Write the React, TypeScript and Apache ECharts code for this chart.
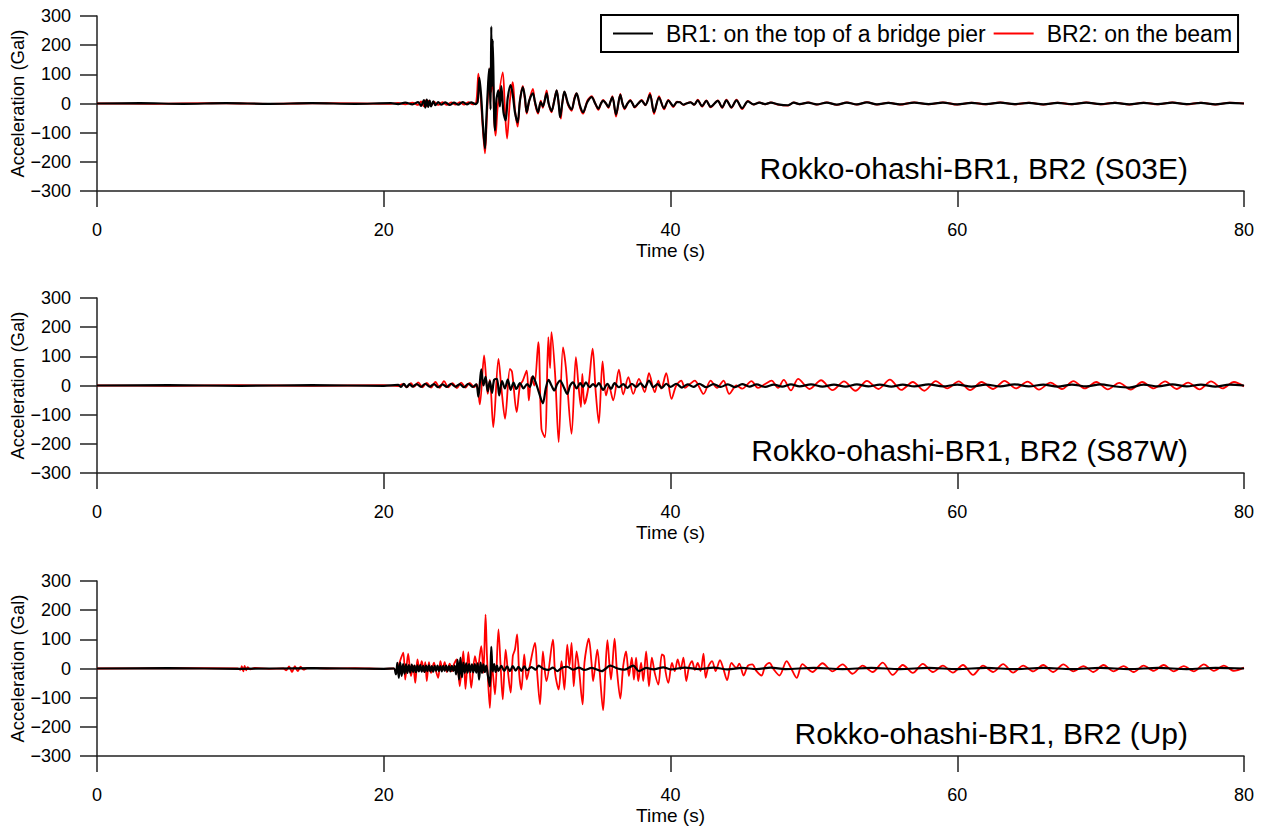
import { useEffect, useRef } from 'react';
import * as echarts from 'echarts';

// ---------- data: [time (s), acceleration (Gal)] ----------
const BR1_NAME = 'BR1: on the top of a bridge pier';
const BR2_NAME = 'BR2: on the beam';
const TITLES = ['Rokko-ohashi-BR1, BR2 (S03E)', 'Rokko-ohashi-BR1, BR2 (S87W)', 'Rokko-ohashi-BR1, BR2 (Up)'];
const Y_TICKS = [-300, -200, -100, 0, 100, 200, 300];
const X_TICKS = [0, 20, 40, 60, 80];

const s03eBR1 = [[0,0],[3,1],[6,-1],[9,1],[12,-1],[15,1],[18,-1],[20.5,1],[21.0,-2],[21.5,3],[22.0,-3],[22.4,5],[22.6,-8],[22.8,12],[22.9,-14],[23.0,13],[23.1,-12],[23.2,10],[23.3,-10],[23.45,7],[23.6,-6],[23.8,5],[24.0,-4],[24.3,4],[24.6,-5],[24.9,3],[25.2,-4],[25.5,5],[25.8,-3],[26.1,4],[26.4,-2],[26.55,6],[26.67,88],[26.8,20],[26.9,-60],[27.06,-154],[27.15,-60],[27.25,40],[27.35,120],[27.45,-20],[27.5,264],[27.55,60],[27.6,218],[27.7,-40],[27.76,-92],[27.85,10],[28.0,45],[28.1,-10],[28.2,60],[28.35,-30],[28.5,-58],[28.65,20],[28.85,63],[29.0,30],[29.15,-30],[29.34,-65],[29.5,10],[29.7,56],[29.85,20],[29.97,-30],[30.15,10],[30.4,35],[30.55,5],[30.76,-30],[30.95,5],[31.1,-10],[31.36,35],[31.5,0],[31.7,-26],[31.9,10],[32.06,45],[32.2,0],[32.3,-47],[32.45,0],[32.6,41],[32.85,0],[33.1,-20],[33.3,15],[33.45,35],[33.7,-10],[33.9,-30],[34.2,5],[34.5,22],[34.75,0],[34.97,-18],[35.15,0],[35.3,10],[35.5,0],[35.67,-12],[35.8,5],[35.95,22],[36.2,-38],[36.5,30],[36.65,0],[36.8,-16],[37.0,0],[37.2,10],[37.35,0],[37.5,-12],[37.75,0],[37.98,10],[38.25,-5],[38.57,30],[38.85,-30],[39.2,20],[39.55,-16],[39.85,10],[40.2,-9],[40.45,5],[40.66,4],[40.9,-4],[41.1,0],[41.4,4],[41.65,-4],[41.9,11],[42.2,-9],[42.5,9],[42.8,-11],[43.3,9],[43.6,-13],[43.9,11],[44.25,-13],[44.6,11],[45.0,-16],[45.4,7],[45.8,-3],[46.2,3],[46.6,-2],[47.0,3],[47.5,-3],[48.2,-6],[48.6,3],[49.0,-2],[49.6,3],[50.2,-3],[50.9,3],[51.6,-4],[52.3,3],[53.0,-3],[53.7,4],[54.4,-3],[55.2,2],[56,-3],[57,3],[58,-2],[59,3],[60,-3],[61,2],[62,-2],[63,3],[64,-2],[65,2],[66,-3],[67,2],[68,-2],[69,3],[70,-2],[71,2],[72,-3],[73,2],[74,-2],[75,3],[76,-2],[77,2],[78,-3],[79,2],[80,0]];

const s03eBR2 = [[0,0],[4,-1],[8,1],[12,-1],[16,1],[20.5,-1],[21.0,2],[21.5,-3],[22.0,3],[22.4,-5],[22.6,7],[22.8,-10],[22.9,11],[23.0,-10],[23.1,10],[23.3,-8],[23.5,6],[23.8,-5],[24.1,5],[24.4,-5],[24.7,4],[25.0,-4],[25.3,5],[25.6,-4],[25.9,5],[26.2,-3],[26.45,5],[26.6,102],[26.75,30],[26.9,-80],[27.06,-171],[27.2,-40],[27.4,120],[27.5,40],[27.6,100],[27.7,-50],[27.8,-110],[27.95,-10],[28.3,107],[28.45,-20],[28.6,-120],[28.8,10],[29.0,73],[29.15,-20],[29.34,-79],[29.5,10],[29.7,60],[29.85,10],[29.97,-35],[30.15,10],[30.4,50],[30.55,0],[30.76,-35],[30.95,10],[31.1,-15],[31.36,45],[31.5,0],[31.7,-30],[31.9,15],[32.06,45],[32.2,0],[32.35,-52],[32.45,0],[32.6,41],[32.85,-5],[33.1,-25],[33.3,20],[33.45,35],[33.7,-15],[33.9,-35],[34.2,10],[34.5,25],[34.75,0],[34.97,-22],[35.15,0],[35.3,12],[35.5,0],[35.67,-15],[35.8,5],[35.95,25],[36.2,-45],[36.5,33],[36.65,0],[36.8,-20],[37.0,0],[37.2,12],[37.35,0],[37.5,-14],[37.75,0],[37.98,12],[38.25,-6],[38.57,36],[38.85,-36],[39.2,25],[39.55,-20],[39.85,12],[40.2,-12],[40.45,6],[40.66,5],[40.9,-5],[41.1,0],[41.4,5],[41.65,-5],[41.9,13],[42.2,-11],[42.5,11],[42.8,-13],[43.3,11],[43.6,-15],[43.9,13],[44.25,-15],[44.6,13],[45.0,-19],[45.4,9],[45.8,-4],[46.2,4],[46.6,-3],[47.0,4],[47.5,-4],[48.2,-7],[48.6,4],[49.0,-3],[49.6,4],[50.2,-4],[50.9,4],[51.6,-5],[52.3,4],[53.0,-4],[53.7,5],[54.4,-4],[55.2,3],[56,-4],[57,4],[58,-3],[59,4],[60,-4],[61,3],[62,-3],[63,4],[64,-3],[65,3],[66,-4],[67,3],[68,-3],[69,4],[70,-3],[71,3],[72,-4],[73,3],[74,-3],[75,4],[76,-3],[77,3],[78,-4],[79,3],[80,0]];

const s87wBR1 = [[0,0],[5,1],[10,-1],[15,1],[20,-1],[21.0,2],[21.2,-5],[21.4,6],[21.6,-6],[21.8,5],[22.0,-4],[22.3,5],[22.6,-5],[22.9,6],[23.2,-4],[23.5,5],[23.8,-6],[24.1,4],[24.4,-5],[24.7,6],[25.0,-4],[25.3,5],[25.6,-6],[25.9,6],[26.2,-5],[26.45,4],[26.6,-38],[26.8,55],[26.95,0],[27.1,30],[27.25,-20],[27.4,15],[27.55,-25],[27.7,20],[27.9,23],[28.05,-34],[28.25,15],[28.45,-10],[28.65,20],[28.85,-15],[29.05,10],[29.25,-12],[29.5,8],[29.75,-10],[30.0,5],[30.2,-5],[30.4,31],[30.6,10],[30.8,-20],[31.1,-61],[31.3,-10],[31.5,19],[31.7,0],[31.9,-17],[32.1,5],[32.3,17],[32.55,-5],[32.8,-29],[33.0,0],[33.2,11],[33.45,-10],[33.7,8],[33.9,-5],[34.1,11],[34.35,-6],[34.6,5],[34.8,-4],[35.0,8],[35.3,-15],[35.6,6],[35.85,-12],[36.1,8],[36.4,-6],[36.7,5],[37.0,-8],[37.3,6],[37.6,-5],[37.9,7],[38.2,-6],[38.5,17],[38.8,-6],[39.1,5],[39.4,-8],[39.7,6],[40.0,-5],[40.4,6],[40.8,-7],[41.2,4],[41.6,-5],[42.0,6],[42.5,-6],[43.0,5],[43.5,-5],[44.0,4],[44.5,-6],[45.0,5],[45.5,-4],[46.0,4],[46.6,-5],[47.2,3],[47.8,-4],[48.4,4],[49.0,-3],[49.8,4],[50.6,-4],[51.4,3],[52.2,-4],[53.0,4],[53.8,-3],[54.6,3],[55.4,-4],[56.2,3],[57.0,-3],[58,4],[59,-3],[60,3],[61,-4],[62,3],[63,-3],[64,4],[65,-3],[66,3],[67,-4],[68,3],[69,-3],[70,4],[71,-3],[72,-7],[73,3],[74,-3],[75,4],[76,-3],[77,3],[78,-4],[79,3],[80,0]];

const s87wBR2 = [[0,0],[5,-1],[10,1],[15,-1],[20,1],[21.0,-2],[21.3,5],[21.6,-6],[21.9,8],[22.1,-5],[22.4,11],[22.7,-6],[23.0,9],[23.3,-7],[23.6,12],[23.9,-8],[24.2,15],[24.5,-6],[24.8,8],[25.1,-9],[25.4,10],[25.7,-7],[26.0,9],[26.3,-6],[26.5,5],[26.7,-65],[27.0,103],[27.15,17],[27.25,-29],[27.4,20],[27.64,-143],[28.0,91],[28.2,-6],[28.46,-114],[28.8,57],[28.95,46],[29.27,-91],[29.5,0],[29.7,17],[29.97,51],[30.12,-51],[30.3,29],[30.5,0],[30.78,149],[31.0,-149],[31.24,-177],[31.48,166],[31.6,60],[31.7,183],[31.95,40],[32.2,-194],[32.5,131],[32.7,63],[33.1,-166],[33.4,97],[33.6,-10],[33.75,-74],[33.85,40],[34.0,-63],[34.27,-6],[34.57,126],[34.78,-20],[35.0,-129],[35.26,83],[35.5,-34],[35.7,0],[36.0,-51],[36.4,54],[36.7,-31],[37.06,29],[37.4,-29],[37.8,23],[38.2,-23],[38.5,42],[38.9,-23],[39.15,17],[39.35,-11],[39.7,42],[40.07,-46],[40.4,0],[40.75,17],[41.0,-8],[41.35,5],[41.7,17],[42.0,-5],[42.3,-29],[42.8,17],[43.25,-8],[43.7,17],[44.1,-29],[44.6,0],[45.0,-11],[45.65,15],[46.1,-8],[46.6,5],[47.05,17],[47.5,-8],[47.9,19],[48.4,-17],[48.9,23],[49.7,-12],[50.5,18],[51.3,-16],[52.1,14],[52.9,-18],[53.7,16],[54.5,-12],[55.3,20],[56.1,-15],[56.9,12],[57.7,-18],[58.5,15],[59.3,-10],[60.1,14],[60.9,-16],[61.7,12],[62.5,-12],[63.3,16],[64.1,-10],[64.9,13],[65.7,-14],[66.5,10],[67.3,-12],[68.1,15],[68.9,-10],[69.7,12],[70.5,-13],[71.3,9],[72.1,-14],[72.9,12],[73.7,-10],[74.5,14],[75.3,-12],[76.1,10],[76.9,-13],[77.7,14],[78.5,-10],[79.3,12],[80,-3]];

const upBR1 = [[0,0],[5,1],[10,-1],[15,1],[20,-1],[20.7,0],[20.85,-20],[20.95,19],[21.05,-32],[21.15,20],[21.25,-25],[21.35,15],[21.45,-18],[21.55,14],[21.65,-15],[21.75,12],[21.85,-14],[21.95,13],[22.05,-12],[22.15,10],[22.25,-13],[22.35,11],[22.45,-10],[22.55,12],[22.65,-11],[22.75,9],[22.85,-12],[22.95,10],[23.05,-9],[23.15,11],[23.25,-10],[23.35,8],[23.45,-11],[23.55,9],[23.65,-8],[23.75,10],[23.85,-9],[23.95,8],[24.05,-10],[24.15,9],[24.25,-8],[24.35,10],[24.45,-9],[24.55,8],[24.65,-10],[24.75,9],[24.85,-8],[24.95,10],[25.05,-20],[25.15,30],[25.25,-38],[25.35,37],[25.45,-30],[25.55,20],[25.65,-15],[25.75,18],[25.85,-14],[25.95,15],[26.05,-12],[26.15,14],[26.25,-13],[26.35,15],[26.45,-14],[26.55,18],[26.65,-38],[26.75,20],[26.85,-15],[26.95,14],[27.05,-12],[27.15,10],[27.25,-20],[27.4,-61],[27.5,74],[27.6,-10],[27.7,15],[27.8,-12],[27.9,10],[28.0,-8],[28.2,9],[28.4,-8],[28.6,7],[28.8,-9],[29.0,8],[29.2,-7],[29.4,6],[29.6,-8],[29.8,7],[30.0,-6],[30.3,5],[30.6,-4],[30.8,10],[31.1,0],[31.5,-5],[31.8,3],[32.1,-9],[32.4,2],[32.8,6],[33.2,-4],[33.6,3],[34.0,-5],[34.5,2],[35.2,-9],[35.8,10],[36.3,0],[36.8,-4],[37.4,10],[37.8,-9],[38.3,2],[38.8,-3],[39.5,4],[40,-3],[41,3],[42,-2],[43,3],[44,-3],[45,2],[46,-2],[47,3],[48,-2],[50,2],[52,-2],[54,2],[56,-2],[58,2],[60,-2],[62,2],[64,-2],[66,2],[68,-2],[70,2],[72,-2],[74,2],[76,-2],[78,2],[80,0]];

const upBR2 = [[0,0],[5,1],[9.8,0],[10.0,-5],[10.1,8],[10.2,-10],[10.3,9],[10.4,-6],[10.5,5],[10.7,-3],[11,2],[12,-1],[13.0,0],[13.2,-6],[13.4,7],[13.6,-12],[13.8,8],[14.0,-9],[14.2,6],[14.4,-4],[14.7,2],[16,0],[18,1],[20,-1],[20.7,0],[20.9,-12],[21.1,20],[21.36,54],[21.5,-38],[21.7,51],[21.9,-26],[22.05,10],[22.2,-49],[22.35,31],[22.5,-5],[22.65,25],[22.8,-10],[22.9,22],[23.0,-43],[23.15,22],[23.3,-15],[23.5,20],[23.65,-10],[23.8,-32],[23.95,25],[24.1,-5],[24.25,22],[24.4,-12],[24.6,17],[24.75,-10],[24.9,15],[25.1,31],[25.3,-61],[25.55,59],[25.7,-70],[25.9,56],[26.1,-66],[26.36,42],[26.55,0],[26.8,77],[26.95,-15],[27.1,185],[27.2,42],[27.4,-135],[27.55,10],[27.76,-89],[28.0,134],[28.15,10],[28.3,-106],[28.5,65],[28.65,-5],[28.85,-83],[29.0,42],[29.15,65],[29.3,117],[29.45,-20],[29.6,-72],[29.8,48],[29.97,-38],[30.15,0],[30.55,88],[30.7,-15],[30.9,-123],[31.1,59],[31.25,-15],[31.35,-43],[31.8,99],[31.95,-15],[32.2,-72],[32.4,25],[32.6,-72],[32.8,82],[32.95,8],[33.1,88],[33.25,-61],[33.45,59],[33.6,8],[33.87,-123],[34.0,20],[34.3,102],[34.5,15],[34.6,-43],[34.9,65],[35.05,-5],[35.3,-143],[35.45,-15],[35.6,97],[35.75,8],[35.85,-38],[36.1,102],[36.25,2],[36.5,-103],[36.7,8],[36.9,59],[37.1,-26],[37.3,37],[37.45,-38],[37.6,37],[37.75,-43],[37.95,20],[38.1,-43],[38.3,59],[38.5,-61],[38.7,37],[38.9,-15],[39.15,-55],[39.4,48],[39.55,42],[39.65,-9],[39.85,-49],[40.1,19],[40.3,-9],[40.5,31],[40.7,-3],[40.9,37],[41.1,-43],[41.3,8],[41.5,25],[41.7,-5],[41.9,19],[42.1,-9],[42.3,51],[42.45,-32],[42.65,8],[42.9,25],[43.15,-9],[43.45,29],[43.7,-3],[43.95,-40],[44.25,19],[44.6,2],[44.8,17],[45.1,-24],[45.4,10],[45.7,14],[46.0,-9],[46.35,-24],[46.6,8],[46.9,19],[47.2,-3],[47.6,-24],[48.1,25],[48.4,2],[48.8,-32],[49.2,15],[49.9,-12],[50.6,18],[51.3,-10],[52.0,14],[52.7,-18],[53.4,10],[54.1,-12],[54.8,20],[55.5,-22],[56.2,12],[56.9,-15],[57.6,16],[58.3,-12],[59.0,10],[59.7,-14],[60.4,12],[61.1,-22],[61.8,10],[62.5,-12],[63.2,15],[63.9,-14],[64.6,10],[65.3,-10],[66.0,12],[66.7,-12],[67.4,14],[68.1,-10],[68.8,8],[69.5,-12],[70.2,12],[70.9,-10],[71.6,8],[72.3,-12],[73.0,10],[73.7,-8],[74.4,12],[75.1,-10],[75.8,8],[76.5,-10],[77.2,14],[77.9,-8],[78.6,10],[79.3,-8],[80,3]];

const PANELS = [
  { br1: s03eBR1, br2: s03eBR2 },
  { br1: s87wBR1, br2: s87wBR2 },
  { br1: upBR1, br2: upBR2 },
];

const FONT = 'Liberation Sans, Arial, sans-serif';
const GRID_TOPS = [16, 298, 581];
const GRID_H = 175;

function fmtNum(v: number) {
  return v < 0 ? '\u2212' + Math.abs(v) : String(v);
}

export default function App() {
  const ref = useRef<HTMLDivElement>(null);
  useEffect(() => {
    if (!ref.current) return;
    const chart = echarts.init(ref.current, undefined, { renderer: 'svg' });
    const grids = GRID_TOPS.map((top) => ({ left: 97, width: 1147, top, height: GRID_H, outerBoundsMode: 'none', containLabel: false }));
    const xAxes = GRID_TOPS.map((_, i) => ({
      type: 'value', gridIndex: i, min: X_TICKS[0], max: X_TICKS[X_TICKS.length - 1], interval: 20,
      name: 'Time (s)', nameLocation: 'middle', nameGap: 50, nameMoveOverlap: false,
      nameTextStyle: { fontSize: 19, color: '#000', fontFamily: FONT },
      axisLine: { onZero: false, lineStyle: { color: '#222', width: 1.5 } },
      axisTick: { length: 16, lineStyle: { color: '#222', width: 1.5 } },
      axisLabel: { margin: 30, fontSize: 18, color: '#000', fontFamily: FONT },
      splitLine: { show: false },
    }));
    const yAxes = GRID_TOPS.map((_, i) => ({
      type: 'value', gridIndex: i, min: Y_TICKS[0], max: Y_TICKS[Y_TICKS.length - 1], interval: 100,
      name: 'Acceleration (Gal)', nameLocation: 'middle', nameGap: 70, nameRotate: 90, nameMoveOverlap: false,
      nameTextStyle: { fontSize: 18.5, color: '#000', fontFamily: FONT },
      axisLine: { show: true, onZero: false, lineStyle: { color: '#222', width: 1.5 } },
      axisTick: { show: true, length: 17, lineStyle: { color: '#222', width: 1.5 } },
      axisLabel: { margin: 26, fontSize: 18, color: '#000', fontFamily: FONT, formatter: fmtNum },
      splitLine: { show: false },
    }));
    const series: any[] = [];
    PANELS.forEach((p, i) => {
      series.push({
        type: 'line', name: BR2_NAME, xAxisIndex: i, yAxisIndex: i, data: p.br2,
        showSymbol: false, symbol: 'none', z: 2, smooth: 0.3,
        lineStyle: { color: '#ff0000', width: 1.8 }, itemStyle: { color: '#ff0000' },
      });
      series.push({
        type: 'line', name: BR1_NAME, xAxisIndex: i, yAxisIndex: i, data: p.br1,
        showSymbol: false, symbol: 'none', z: 3, smooth: 0.3,
        lineStyle: { color: '#000', width: 2.2 }, itemStyle: { color: '#000' },
      });
    });
    const graphic = TITLES.map((t, i) => ({
      type: 'text', x: 1188, y: GRID_TOPS[i] + 152,
      style: { text: t, fontSize: 30, fontFamily: FONT, fill: '#000', align: 'right', verticalAlign: 'middle' },
    }));
    chart.setOption({
      animation: false,
      backgroundColor: '#fff',
      grid: grids,
      xAxis: xAxes,
      yAxis: yAxes,
      legend: {
        left: 601, top: 15,
        data: [{ name: BR1_NAME, icon: 'rect' }, { name: BR2_NAME, icon: 'rect' }],
        itemWidth: 40, itemHeight: 2, itemGap: 8,
        padding: [7, 6, 7, 12],
        borderColor: '#000', borderWidth: 2, borderRadius: 0,
        textStyle: { fontSize: 23, color: '#000', fontFamily: FONT, padding: [0, 0, 0, 8] },
        selectedMode: false,
      },
      graphic,
      series,
    });
    return () => chart.dispose();
  }, []);
  return <div ref={ref} style={{ position: 'absolute', left: 0, top: 0, width: 1266, height: 829 }} />;
}
